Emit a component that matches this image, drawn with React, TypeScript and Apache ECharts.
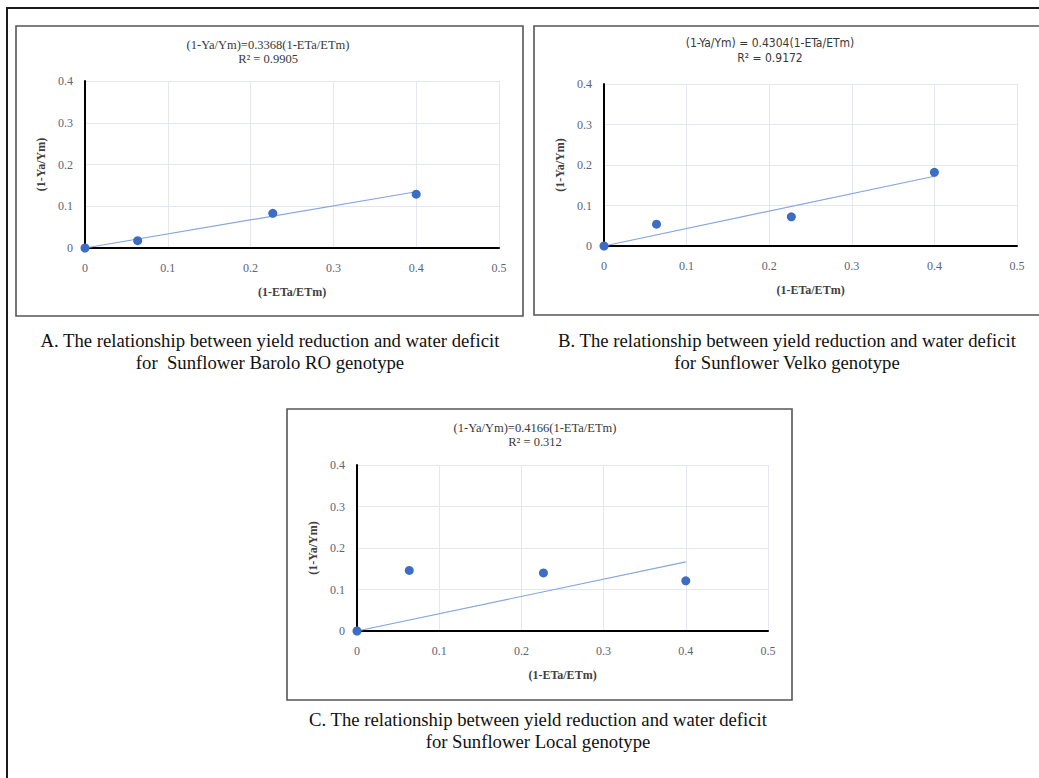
import React, { useEffect, useRef } from "react";
import * as echarts from "echarts";

// ---- data ----
const waterDeficit = [0, 0.0636, 0.2268, 0.4]; // (1-ETa/ETm)
const yieldReductionA = [0, 0.0175, 0.083, 0.129]; // Barolo RO
const yieldReductionB = [0, 0.054, 0.072, 0.182]; // Velko
const yieldReductionC = [0, 0.146, 0.14, 0.121]; // Local
const trendX = [0, 0.4];
const trendA = [0, 0.1347];
const trendB = [0, 0.1722];
const trendC = [0, 0.1666];
const xTicks = [0, 0.1, 0.2, 0.3, 0.4, 0.5];
const yTicks = [0, 0.1, 0.2, 0.3, 0.4];

const titleA = ["(1-Ya/Ym)=0.3368(1-ETa/ETm)", "R² = 0.9905"];
const titleB = ["(1-Ya/Ym) = 0.4304(1-ETa/ETm)", "R² = 0.9172"];
const titleC = ["(1-Ya/Ym)=0.4166(1-ETa/ETm)", "R² = 0.312"];
const captionA = [
  "A. The relationship between yield reduction and water deficit",
  "for  Sunflower Barolo RO genotype",
];
const captionB = [
  "B. The relationship between yield reduction and water deficit",
  "for Sunflower Velko genotype",
];
const captionC = [
  "C. The relationship between yield reduction and water deficit",
  "for Sunflower Local genotype",
];
const xName = "(1-ETa/ETm)";
const yName = "(1-Ya/Ym)";

const SERIF = '"Liberation Serif", "Times New Roman", serif';
const SANS = '"Liberation Sans Narrow", "DejaVu Sans Condensed", "Liberation Sans", sans-serif';

export default function App() {
  const ref = useRef<HTMLDivElement>(null);

  useEffect(() => {
    if (!ref.current) return;
    const chart = echarts.init(ref.current, undefined, { renderer: "svg" });

    const grids = [
      { left: 85, top: 81, width: 414, height: 167 },
      { left: 604, top: 84, width: 413, height: 162 },
      { left: 357, top: 465, width: 411, height: 166 },
    ];

    const fmt = (v: number) => (v === 0 ? "0" : v.toFixed(1));

    const mkX = (i: number) => ({
      type: "value",
      gridIndex: i,
      min: xTicks[0],
      max: xTicks[xTicks.length - 1],
      interval: 0.1,
      name: xName,
      nameLocation: "middle",
      nameGap: 38,
      nameTextStyle: { fontFamily: SERIF, fontSize: 12, fontWeight: "bold", color: "#404040" },
      axisLine: { show: true, onZero: false, lineStyle: { color: "#000", width: 2 } },
      axisTick: { show: false },
      axisLabel: { margin: 14, fontFamily: SERIF, fontSize: 12, color: "#5b6476", formatter: fmt },
      splitLine: { show: true, lineStyle: { color: "#e4e7ee", width: 1 } },
    });
    const mkY = (i: number) => ({
      type: "value",
      gridIndex: i,
      min: yTicks[0],
      max: yTicks[yTicks.length - 1],
      interval: 0.1,
      name: yName,
      nameLocation: "middle",
      nameGap: 38,
      nameRotate: 90,
      nameTextStyle: { fontFamily: SERIF, fontSize: 12, fontWeight: "bold", color: "#404040" },
      axisLine: { show: true, onZero: false, lineStyle: { color: "#000", width: 2 } },
      axisTick: { show: false },
      axisLabel: { margin: 12, fontFamily: SERIF, fontSize: 12, color: "#5b6476", formatter: fmt },
      splitLine: { show: true, lineStyle: { color: "#e4e7ee", width: 1 } },
    });

    const ys = [yieldReductionA, yieldReductionB, yieldReductionC];
    const trends = [trendA, trendB, trendC];

    const series: any[] = [];
    for (let i = 0; i < 3; i++) {
      series.push({
        type: "line",
        xAxisIndex: i,
        yAxisIndex: i,
        data: trendX.map((x, k) => [x, trends[i][k]]),
        symbol: "none",
        lineStyle: { color: "#86a6dc", width: 1.2 },
        z: 2,
      });
      series.push({
        type: "scatter",
        xAxisIndex: i,
        yAxisIndex: i,
        data: waterDeficit.map((x, k) => [x, ys[i][k]]),
        symbolSize: 9,
        itemStyle: { color: "#3d6cc4", opacity: 1 },
        z: 3,
      });
    }

    const txt = (
      text: string,
      x: number,
      y: number,
      font: string,
      size: number,
      color: string,
      weight = "normal"
    ) => ({
      type: "text",
      x,
      y,
      silent: true,
      style: {
        text,
        fontFamily: font,
        fontSize: size,
        fontWeight: weight,
        fill: color,
        align: "center",
        verticalAlign: "middle",
      },
    });

    const box = (x: number, y: number, w: number, h: number, stroke: string, lw: number) => ({
      type: "rect",
      silent: true,
      z: -10,
      shape: { x, y, width: w, height: h },
      style: { fill: "none", stroke, lineWidth: lw },
    });

    const graphic: any[] = [
      box(7, 8, 1100, 900, "#1a1a1a", 2),
      box(16, 26, 507, 290, "#555", 1.6),
      box(534, 26, 520, 289, "#555", 1.6),
      box(287, 409, 505, 291, "#555", 1.6),
      txt(titleA[0], 268, 45, SERIF, 12.5, "#383838"),
      txt(titleA[1], 268, 59, SERIF, 12.5, "#383838"),
      txt(titleB[0], 770, 43, SANS, 12, "#383838"),
      txt(titleB[1], 770, 58, SANS, 12, "#383838"),
      txt(titleC[0], 535, 428, SERIF, 12.5, "#383838"),
      txt(titleC[1], 535, 442, SERIF, 12.5, "#383838"),
      txt(captionA[0], 270, 340, SERIF, 18.7, "#111"),
      txt(captionA[1], 270, 362, SERIF, 18.7, "#111"),
      txt(captionB[0], 787, 340, SERIF, 18.7, "#111"),
      txt(captionB[1], 787, 362, SERIF, 18.7, "#111"),
      txt(captionC[0], 538, 719, SERIF, 18.7, "#111"),
      txt(captionC[1], 538, 741, SERIF, 18.7, "#111"),
    ];

    chart.setOption({
      animation: false,
      backgroundColor: "#fff",
      grid: grids,
      xAxis: [mkX(0), mkX(1), mkX(2)],
      yAxis: [mkY(0), mkY(1), mkY(2)],
      series,
      graphic,
    });

    return () => chart.dispose();
  }, []);

  return (
    <div
      ref={ref}
      style={{ position: "absolute", left: 0, top: 0, width: 1039, height: 778 }}
    />
  );
}
